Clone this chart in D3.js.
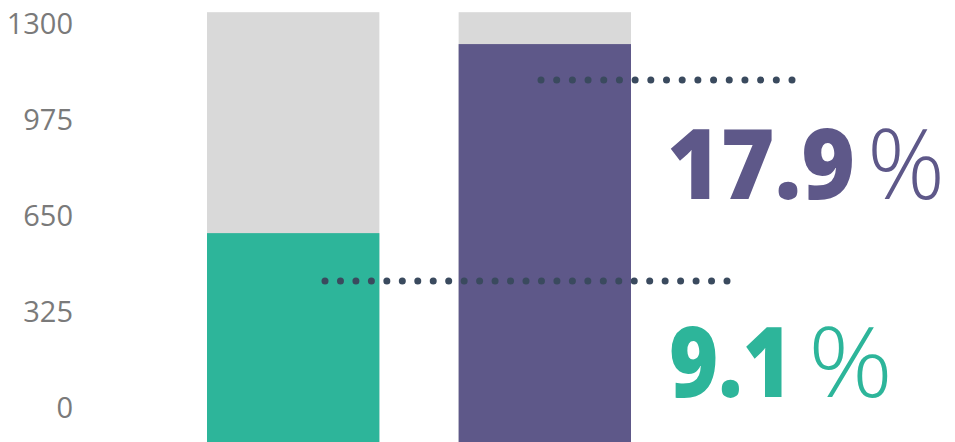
<!DOCTYPE html>
<html>
<head>
<meta charset="utf-8">
<script src="https://cdn.jsdelivr.net/npm/d3@7"></script>
<style>
  html, body { margin: 0; padding: 0; background: #fff; }
  svg { display: block; }
</style>
</head>
<body>
<svg id="chart" width="955" height="442"></svg>
<script>
// ---- data ----
const categories = ["Group A", "Group B"];
const totals = [1340, 1340];          // grey background bars
const values = [592, 1232];           // coloured bars
const percentLabels = ["9.1", "17.9"];
const tickValues = [0, 325, 650, 975, 1300];
const barColors = ["#2db59a", "#5e5889"];

// ---- layout ----
const W = 955, H = 442;
const svg = d3.select("#chart");

const y = d3.scaleLinear().domain([0, 1300]).range([408, 24]);
const x = d3.scaleBand().domain(categories).range([207, 631]).paddingInner(0.315).paddingOuter(0);

// axis
const axis = d3.axisLeft(y).tickValues(tickValues).tickFormat(d3.format("d")).tickSize(0).tickPadding(0);
const gAxis = svg.append("g").attr("transform", "translate(73,0)").call(axis);
gAxis.select(".domain").remove();
gAxis.selectAll("text")
  .attr("fill", "#7a7a7a")
  .attr("font-family", "'Open Sans', sans-serif")
  .attr("font-size", 29)
  .attr("dy", "0.34em");

// grey background bars
svg.selectAll("rect.bg").data(categories).join("rect")
  .attr("class", "bg")
  .attr("x", d => x(d))
  .attr("width", x.bandwidth())
  .attr("y", (d, i) => y(totals[i]))
  .attr("height", (d, i) => H - y(totals[i]))
  .attr("fill", "#d9d9d9");

// coloured bars
svg.selectAll("rect.val").data(categories).join("rect")
  .attr("class", "val")
  .attr("x", d => x(d))
  .attr("width", x.bandwidth())
  .attr("y", (d, i) => y(values[i]))
  .attr("height", (d, i) => H - y(values[i]))
  .attr("fill", (d, i) => barColors[i]);

// dotted leader lines
const leaders = [
  { x0: 325, x1: 727, y: 281, n: 27 },
  { x0: 541, x1: 792, y: 80, n: 17 }
];
leaders.forEach(l => {
  const xs = d3.range(l.n).map(k => l.x0 + (l.x1 - l.x0) * k / (l.n - 1));
  svg.append("g").selectAll("circle").data(xs).join("circle")
    .attr("cx", d => d).attr("cy", l.y).attr("r", 3.5)
    .attr("fill", "#3a4a5e");
});

// big percentage labels
const labelLayout = [
  { numX: 669, numW: 123, pctX: 808, pctW: 85, base: 397 },
  { numX: 667, numW: 188, pctX: 867, pctW: 78, base: 199 }
];
labelLayout.forEach((p, i) => {
  svg.append("text")
    .attr("x", p.numX).attr("y", p.base)
    .attr("fill", barColors[i])
    .attr("font-family", "'Open Sans', sans-serif")
    .attr("font-weight", 800)
    .attr("font-size", 97)
    .attr("textLength", p.numW)
    .attr("lengthAdjust", "spacingAndGlyphs")
    .text(percentLabels[i]);
  svg.append("text")
    .attr("x", p.pctX).attr("y", p.base)
    .attr("fill", barColors[i])
    .attr("font-family", "'Open Sans', sans-serif")
    .attr("font-weight", 300)
    .attr("font-size", 97)
    .attr("textLength", p.pctW)
    .attr("lengthAdjust", "spacingAndGlyphs")
    .text("%");
});
</script>
</body>
</html>
